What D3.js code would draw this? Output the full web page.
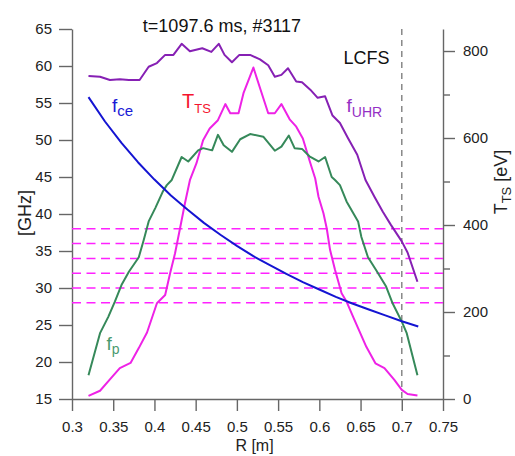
<!DOCTYPE html>
<html>
<head>
<meta charset="utf-8">
<script src="https://cdn.jsdelivr.net/npm/d3@7"></script>
<style>
  body { margin: 0; background: #fff; }
  text { font-family: "Liberation Sans", Arial, sans-serif; }
</style>
</head>
<body>
<div id="canvas"></div>
<script>
// Setting dimensions

let W = 515, H = 456;
let margin = {top: 29, right: 72, bottom: 57, left: 72};
let width = W - margin.left - margin.right;
let height = H - margin.top - margin.bottom;

// Data

let title = "t=1097.6 ms, #3117";

// electron cyclotron frequency [GHz]
let rCe = [0.32, 0.34, 0.36, 0.38, 0.40, 0.42, 0.44, 0.46, 0.48, 0.50, 0.52,
           0.54, 0.56, 0.58, 0.60, 0.62, 0.64, 0.66, 0.68, 0.70, 0.72];
let fCe = [55.8, 52.5, 49.6, 47.0, 44.65, 42.5, 40.6, 38.8, 37.2, 35.7, 34.3,
           33.1, 31.9, 30.8, 29.8, 28.8, 27.9, 27.1, 26.3, 25.5, 24.8];

// upper hybrid frequency [GHz]
let rUHR = [0.320, 0.334, 0.346, 0.358, 0.369, 0.382, 0.393, 0.403, 0.413, 0.423,
            0.433, 0.443, 0.458, 0.469, 0.478, 0.485, 0.494, 0.503, 0.516, 0.528,
            0.538, 0.546, 0.554, 0.562, 0.572, 0.579, 0.589, 0.598, 0.607, 0.616,
            0.625, 0.635, 0.646, 0.656, 0.667, 0.677, 0.687, 0.700, 0.707, 0.719];
let fUHR = [58.65, 58.55, 58.1, 58.2, 58.1, 58.1, 59.9, 60.4, 61.5, 61.5,
            63.0, 62.0, 62.4, 61.9, 63.0, 61.5, 60.5, 61.5, 61.5, 60.9,
            60.1, 58.55, 58.8, 59.7, 57.9, 57.8, 56.8, 55.7, 55.9, 53.3,
            52.3, 50.2, 48.0, 44.6, 42.3, 40.3, 38.5, 36.3, 34.8, 30.85];

// plasma frequency [GHz]
let rP = [0.320, 0.334, 0.344, 0.352, 0.360, 0.369, 0.381, 0.387, 0.393, 0.401,
          0.410, 0.415, 0.421, 0.433, 0.441, 0.453, 0.459, 0.470, 0.477, 0.484,
          0.494, 0.504, 0.516, 0.532, 0.546, 0.554, 0.563, 0.570, 0.579, 0.588,
          0.599, 0.607, 0.615, 0.619, 0.625, 0.633, 0.647, 0.651, 0.659, 0.669,
          0.681, 0.689, 0.700, 0.706, 0.719];
let fP = [18.2, 23.9, 26.1, 28.15, 30.4, 32.2, 34.15, 36.5, 39.0, 40.8,
          43.0, 43.9, 44.6, 47.7, 47.1, 48.6, 48.9, 48.6, 50.7, 49.3,
          48.4, 50.1, 50.8, 50.45, 48.55, 49.1, 50.6, 48.9, 48.8, 47.8,
          47.1, 47.7, 45.0, 44.6, 43.9, 41.7, 39.0, 36.9, 34.15, 32.4,
          30.2, 27.9, 25.45, 23.9, 18.2];

// Thomson scattering electron temperature [eV]
let rTS = [0.320, 0.334, 0.346, 0.358, 0.371, 0.381, 0.391, 0.403, 0.413, 0.419,
           0.425, 0.431, 0.437, 0.443, 0.451, 0.459, 0.467, 0.477, 0.486, 0.492,
           0.502, 0.508, 0.520, 0.538, 0.546, 0.554, 0.564, 0.572, 0.580, 0.588,
           0.595, 0.599, 0.605, 0.609, 0.613, 0.619, 0.627, 0.633, 0.641, 0.647,
           0.657, 0.668, 0.679, 0.691, 0.700, 0.707, 0.719];
let tTS = [7, 19, 45, 71, 83, 117, 153, 220, 239, 289,
           335, 392, 450, 503, 542, 595, 622, 641, 678, 657,
           657, 703, 762, 657, 657, 678, 643, 626, 599, 549,
           507, 465, 427, 392, 343, 297, 243, 224, 189, 163,
           120, 82, 71, 44, 21, 11.5, 8];

// probing frequencies [GHz] and separatrix position [m]
let probeFreqs = [28, 30, 32, 34, 36, 38];
let rLCFS = 0.7;

let xTicks = [0.3, 0.35, 0.4, 0.45, 0.5, 0.55, 0.6, 0.65, 0.7, 0.75];
let yTicks = [15, 20, 25, 30, 35, 40, 45, 50, 55, 60, 65];
let tMajor = [0, 200, 400, 600, 800];
let tMinor = [100, 300, 500, 700];

// Drawing plotting area

let svg = d3.select("#canvas")
    .append("svg")
    .attr("width", W)
    .attr("height", H)
    .append("g")
    .attr("transform", "translate(" + margin.left + ", " + margin.top + ")");

// Defining the scales

let xScale = d3.scaleLinear().domain([0.3, 0.75]).range([0, width]);
let yScale = d3.scaleLinear().domain([15, 65]).range([height, 0]);
// right axis: 800 eV sits at 51 px, axis line runs up to the top of the frame
let tScale = d3.scaleLinear().domain([0, 850.6]).range([height, 0]);

let axisColor = "#666";
let fmt = d => String(+d.toFixed(2));

// Plotting the axes

let gx = svg.append("g")
    .attr("transform", "translate(0, " + height + ")")
    .call(d3.axisBottom(xScale).tickValues(xTicks).tickFormat(fmt)
        .tickSize(12).tickSizeOuter(0).tickPadding(10));

let gy = svg.append("g")
    .call(d3.axisLeft(yScale).tickValues(yTicks)
        .tickSize(13).tickSizeOuter(0).tickPadding(7));

let gt = svg.append("g")
    .attr("transform", "translate(" + width + ", 0)")
    .call(d3.axisRight(tScale).tickValues(tMajor)
        .tickSize(12).tickSizeOuter(0).tickPadding(8));

let gt2 = svg.append("g")
    .attr("transform", "translate(" + width + ", 0)")
    .call(d3.axisRight(tScale).tickValues(tMinor).tickFormat("")
        .tickSize(7).tickSizeOuter(0));
gt2.select(".domain").remove();

[gx, gy, gt, gt2].forEach(g => {
    g.selectAll("path, line").attr("stroke", axisColor).attr("stroke-width", 1.4);
    g.selectAll("text")
        .style("font-size", "15px")
        .style("font-family", "'Liberation Sans', Arial, sans-serif")
        .attr("fill", "#222");
});

// Dashed reference lines

svg.selectAll(".probe")
    .data(probeFreqs)
    .enter()
    .append("line")
    .attr("x1", 0)
    .attr("x2", width)
    .attr("y1", d => yScale(d))
    .attr("y2", d => yScale(d))
    .attr("stroke", "#ff22ff")
    .attr("stroke-width", 1.5)
    .attr("stroke-dasharray", "9,5.5");

svg.append("line")
    .attr("x1", xScale(rLCFS))
    .attr("x2", xScale(rLCFS))
    .attr("y1", 0)
    .attr("y2", height)
    .attr("stroke", "#888")
    .attr("stroke-width", 1.5)
    .attr("stroke-dasharray", "6,5");

// Plotting the data

function drawLine(rs, vs, scale, color) {
    svg.append("path")
        .datum(rs.map((r, i) => [r, vs[i]]))
        .style("fill", "none")
        .style("stroke", color)
        .style("stroke-width", 2)
        .style("stroke-linejoin", "round")
        .attr("d", d3.line()
            .x(d => xScale(d[0]))
            .y(d => scale(d[1]))
        );
}

drawLine(rTS, tTS, tScale, "#ee22e6");
drawLine(rP, fP, yScale, "#36895a");
drawLine(rUHR, fUHR, yScale, "#8620b4");
drawLine(rCe, fCe, yScale, "#1414d2");

// Adding the titles and labels

function label(x, y, main, sub, color, size, subSize, dy) {
    let t = svg.append("text")
        .attr("x", x - margin.left)
        .attr("y", y - margin.top)
        .style("font-size", size + "px")
        .attr("fill", color);
    t.append("tspan").text(main);
    t.append("tspan").attr("dy", dy).style("font-size", subSize + "px").text(sub);
    return t;
}

label(112, 111.5, "f", "ce", "#1a1ad6", 19, 15, 4.5);
label(182, 108.3, "T", "TS", "#f5142e", 20, 13, 4.5);
label(346.5, 111.7, "f", "UHR", "#9530c4", 19, 14, 5.5);
label(106.5, 350, "f", "p", "#4a9a6e", 19, 14, 4);

svg.append("text")
    .attr("x", 222 - margin.left)
    .attr("y", 31.7 - margin.top)
    .style("font-size", "18px")
    .style("text-anchor", "middle")
    .attr("fill", "#111")
    .text(title);

svg.append("text")
    .attr("x", 389.5 - margin.left)
    .attr("y", 64 - margin.top)
    .style("font-size", "18px")
    .style("text-anchor", "end")
    .attr("fill", "#111")
    .text("LCFS");

svg.append("text")
    .attr("x", 254.5 - margin.left)
    .attr("y", 451 - margin.top)
    .style("font-size", "16px")
    .style("text-anchor", "middle")
    .attr("fill", "#222")
    .text("R [m]");

svg.append("text")
    .attr("transform", "translate(" + (30.5 - margin.left) + ", " + (213 - margin.top) + ") rotate(-90)")
    .style("font-size", "18px")
    .style("text-anchor", "middle")
    .attr("fill", "#222")
    .text("[GHz]");

let tl = svg.append("text")
    .attr("transform", "translate(" + (507 - margin.left) + ", " + (182 - margin.top) + ") rotate(-90)")
    .style("font-size", "18px")
    .style("text-anchor", "middle")
    .attr("fill", "#222");
tl.append("tspan").text("T");
tl.append("tspan").attr("dy", 3.5).style("font-size", "13px").text("TS");
tl.append("tspan").attr("dy", -3.5).text(" [eV]");
</script>
</body>
</html>
